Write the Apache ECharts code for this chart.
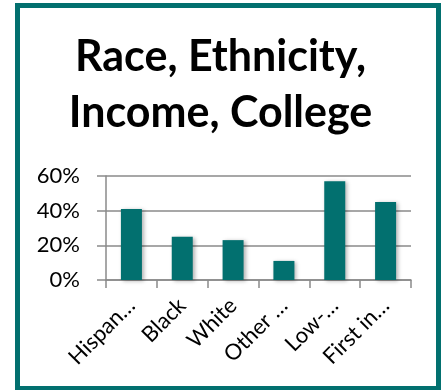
<!DOCTYPE html>
<html>
<head>
<meta charset="utf-8">
<script src="https://cdn.jsdelivr.net/npm/echarts@6/dist/echarts.min.js"></script>
<style>
html,body{margin:0;padding:0;background:#fff;}
#chart{width:441px;height:390px;}
</style>
</head>
<body>
<div id="chart"></div>
<script>
var categories = ["Hispan\u2026", "Black", "White", "Other \u2026", "Low-\u2026", "First in\u2026"];
var values = [0.41, 0.25, 0.23, 0.11, 0.57, 0.45];
var yTicks = [0, 0.2, 0.4, 0.6];
var titleText = "Race, Ethnicity,\nIncome, College";

var teal = "#02706f";
var grey = "#8a8a8a";
var font = "Lato";

var chart = echarts.init(document.getElementById("chart"), null, {renderer: "canvas"});
chart.setOption({
  animation: false,
  backgroundColor: "#fff",
  title: {
    text: titleText,
    left: "center",
    top: 24,
    textStyle: {fontFamily: font, fontWeight: "bold", fontSize: 43, lineHeight: 56, color: "#000"}
  },
  graphic: [{
    type: "rect",
    shape: {x: 17.5, y: 5.5, width: 421, height: 383},
    style: {fill: null, stroke: teal, lineWidth: 5},
    silent: true
  }],
  grid: {left: 106, right: 30, top: 176, bottom: 110},
  xAxis: {
    type: "category",
    data: categories,
    axisLine: {lineStyle: {color: grey, width: 1.5}},
    axisTick: {show: true, length: 8, lineStyle: {color: grey, width: 1.5}},
    axisLabel: {rotate: 45, margin: 22, interval: 0, fontFamily: font, fontSize: 22, color: "#000"}
  },
  yAxis: {
    type: "value",
    min: yTicks[0],
    max: yTicks[yTicks.length - 1],
    interval: 0.2,
    axisLine: {show: true, lineStyle: {color: grey, width: 1.5}},
    axisTick: {show: true, length: 9, lineStyle: {color: grey, width: 1.5}},
    splitLine: {lineStyle: {color: grey, width: 1.5}},
    axisLabel: {margin: 26, fontFamily: font, fontSize: 22, color: "#000",
      formatter: function (v) { return Math.round(v * 100) + "%"; }}
  },
  series: [{
    type: "bar",
    data: values,
    barWidth: 21,
    itemStyle: {color: teal, shadowColor: "rgba(0,0,0,0.3)", shadowBlur: 4, shadowOffsetX: 2, shadowOffsetY: 1}
  }]
});
</script>
</body>
</html>
